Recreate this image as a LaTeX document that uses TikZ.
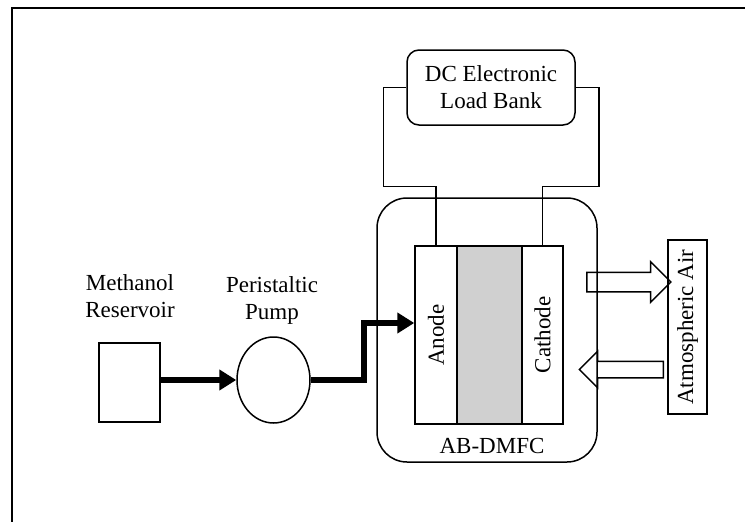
\documentclass[tikz,border=0pt]{standalone}
\usepackage{fontspec}
\setmainfont{Liberation Serif}
\usetikzlibrary{arrows.meta, positioning, shapes.geometric, shapes.arrows}
\definecolor{membrane}{RGB}{208,208,208}
\tikzset{
  box/.style={draw, line width=1.5pt, inner sep=0pt},
  wire/.style={line width=1.5pt},
  flow/.style={line width=5.5pt, -{Triangle[length=17pt, width=20pt]}},
  airarrow/.style={draw, line width=1.5pt, single arrow, inner xsep=0pt, minimum height=84pt}
}

\begin{document}
\begin{tikzpicture}[x=1pt, y=-1pt, every node/.style={font=\fontsize{23}{27}\selectfont}]
	\useasboundingbox (0,0) rectangle (745,522);
	\draw[line width=2pt] (12,522) -- (12,8) -- (745,8);

	% load bank and the cell
	\node[box, rounded corners=12pt, minimum width=168pt, minimum height=75pt, align=center] (load) at (491,87.5) {DC Electronic\\Load Bank};
	\node[box, rounded corners=30pt, minimum width=220pt, minimum height=264pt] (dmfc) at (487,330) {};
	\node[box, fill=membrane, minimum width=65pt, minimum height=178pt] (pem) at (489.5,335) {};
	\node[box, rotate=90, minimum width=178pt, minimum height=42pt] (anode) at (436,335) {Anode};
	\node[box, rotate=90, minimum width=178pt, minimum height=41pt] (cathode) at (542.5,335) {Cathode};
	\node (dmfclabel) at (492,446) {AB-DMFC};

	\draw[wire] (load.west) -- ++(-23,0) -- ++(0,99) -| (anode.east);
	\draw[wire] (load.east) -- ++(23,0) -- ++(0,99) -| (cathode.east);

	% air side
	\node[box, rotate=90, minimum width=174pt, minimum height=39pt] (air) at (687.5,327) {Atmospheric Air};
	\node[airarrow, inner ysep=9pt, single arrow head extend=10.5pt] (airout) at (624,282) {};
	\node[airarrow, rotate=180, inner ysep=7.5pt, single arrow head extend=10pt] (airin) at (625.5,369.5) {};

	% methanol feed
	\node[box, minimum width=61pt, minimum height=79pt] (res) at (129.5,382.5) {};
	\node[align=center] (reslabel) at (130,296.5) {Methanol\\Reservoir};
	\node[box, ellipse, minimum width=73pt, minimum height=86pt] (pump) at (273.5,380) {};
	\node[align=center] (pumplabel) at (272,300) {Peristaltic\\Pump};

	\draw[flow] (res.east |- pump.west) -- (pump.west);
	\draw[flow] (pump.east) -- ++(53,0) |- ([yshift=12pt]anode.north);
\end{tikzpicture}
\end{document}
